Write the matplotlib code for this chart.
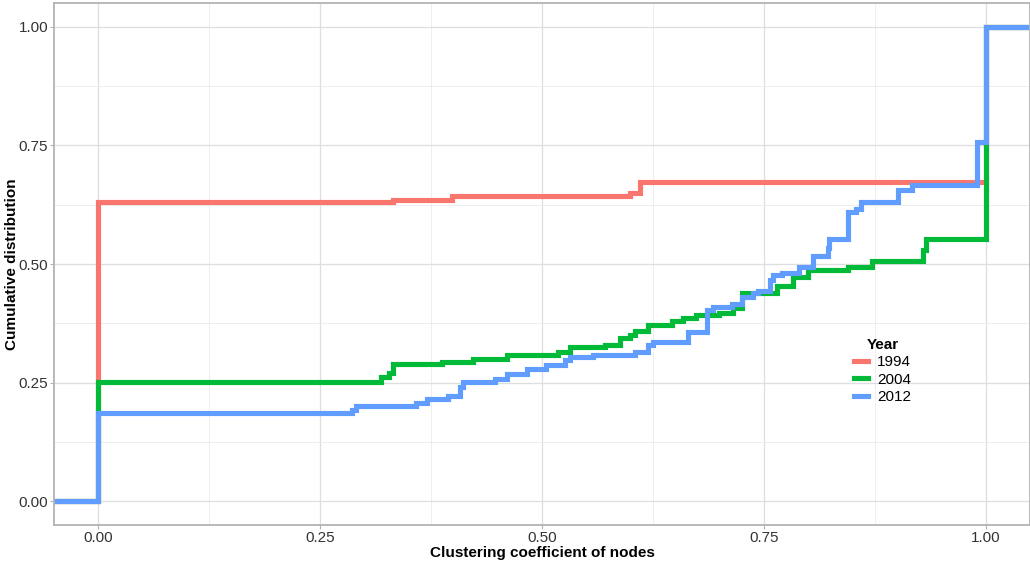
import matplotlib.pyplot as plt
from matplotlib.lines import Line2D

plt.rcParams['font.family'] = ['Liberation Sans', 'DejaVu Sans']

# ECDF step points (x where the step happens, y after the step)
x_1994 = [-0.05, 0.0, 0.332, 0.399, 0.599, 0.61, 1.0, 1.05]
y_1994 = [0.0, 0.630, 0.635, 0.644, 0.649, 0.672, 1.0, 1.0]

x_2004 = [-0.05, 0.0, 0.318, 0.327, 0.332, 0.387, 0.422, 0.46, 0.518, 0.532,
          0.571, 0.588, 0.599, 0.605, 0.619, 0.646, 0.659, 0.674, 0.70, 0.715,
          0.725, 0.765, 0.783, 0.80, 0.845, 0.872, 0.929, 0.933, 1.0, 1.05]
y_2004 = [0.0, 0.251, 0.262, 0.271, 0.289, 0.293, 0.300, 0.308, 0.315, 0.325,
          0.329, 0.344, 0.350, 0.359, 0.371, 0.380, 0.386, 0.392, 0.397, 0.407,
          0.439, 0.454, 0.473, 0.487, 0.494, 0.507, 0.530, 0.553, 1.0, 1.0]

x_2012 = [-0.05, 0.0, 0.286, 0.29, 0.358, 0.37, 0.394, 0.408, 0.411, 0.447,
          0.46, 0.483, 0.505, 0.526, 0.532, 0.558, 0.605, 0.62, 0.625, 0.665,
          0.686, 0.693, 0.714, 0.725, 0.738, 0.743, 0.757, 0.76, 0.77, 0.79,
          0.805, 0.822, 0.824, 0.845, 0.854, 0.86, 0.901, 0.917, 0.99, 1.0, 1.05]
y_2012 = [0.0, 0.186, 0.192, 0.200, 0.207, 0.215, 0.221, 0.241, 0.251, 0.257,
          0.268, 0.278, 0.287, 0.297, 0.304, 0.308, 0.315, 0.329, 0.336, 0.357,
          0.403, 0.409, 0.416, 0.431, 0.439, 0.443, 0.466, 0.477, 0.482, 0.494,
          0.516, 0.534, 0.553, 0.610, 0.616, 0.631, 0.656, 0.667, 0.758, 1.0, 1.0]

years = ['1994', '2004', '2012']
colors = ['#F8766D', '#00BA38', '#619CFF']

fig = plt.figure(figsize=(10.3, 5.63), dpi=100)
ax = fig.add_axes([54 / 1030, 1 - 525 / 563, 976 / 1030, 522 / 563])

series = [(x_1994, y_1994), (x_2004, y_2004), (x_2012, y_2012)]
for (xs, ys), c in zip(series, colors):
    ax.step(xs, ys, where='post', color=c, lw=3.7, solid_joinstyle='miter')

ax.set_xlim(-0.05, 1.05)
ax.set_ylim(-0.05, 1.05)
ticks = [0, 0.25, 0.5, 0.75, 1.0]
ax.set_xticks(ticks)
ax.set_yticks(ticks)
ax.set_xticklabels(['0.00', '0.25', '0.50', '0.75', '1.00'])
ax.set_yticklabels(['0.00', '0.25', '0.50', '0.75', '1.00'])
ax.set_xticks([0.125, 0.375, 0.625, 0.875], minor=True)
ax.set_yticks([0.125, 0.375, 0.625, 0.875], minor=True)
ax.tick_params(which='major', length=2.7, width=0.8, color='#B3B3B3',
               labelsize=11, labelcolor='#333333', pad=1.5)
ax.tick_params(which='minor', length=0)
ax.grid(which='major', color='#DEDEDE', lw=0.9)
ax.grid(which='minor', color='#EBEBEB', lw=0.6)
ax.set_axisbelow(True)
for s in ax.spines.values():
    s.set_color('#B3B3B3')
    s.set_linewidth(1.3)

ax.set_xlabel('Clustering coefficient of nodes', fontsize=11, fontweight='bold', labelpad=1)
ax.set_ylabel('Cumulative distribution', fontsize=11, fontweight='bold', labelpad=0)

handles = [Line2D([], [], color=c, lw=3.7) for c in colors]
leg = ax.legend(handles, years, title='Year', loc='center',
                bbox_to_anchor=(0.849, 0.295), frameon=False, fontsize=11,
                handlelength=0.9, handletextpad=0.6, labelspacing=0.22,
                title_fontproperties={'weight': 'bold', 'size': 11})

fig.savefig('out.png', dpi=100)
